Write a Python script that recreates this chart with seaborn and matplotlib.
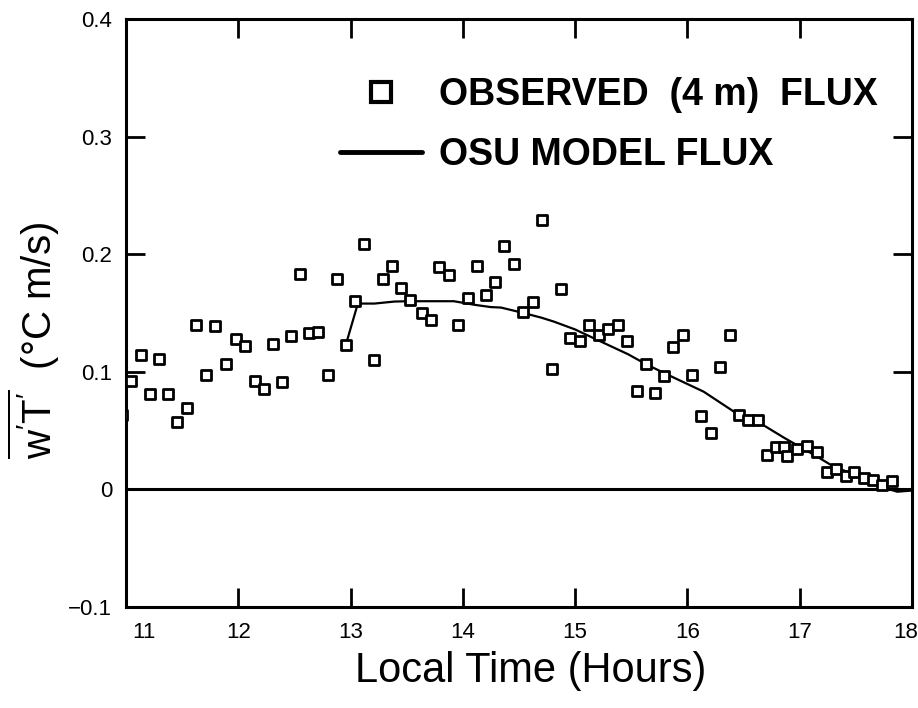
import matplotlib
matplotlib.use('Agg')
import matplotlib.pyplot as plt
import matplotlib.transforms as mtransforms
from matplotlib.lines import Line2D
import pandas as pd
import seaborn as sns

# -----------------------------
# DATA
# -----------------------------

obs_time = [
    10.965, 11.048, 11.13, 11.217, 11.294, 11.375, 11.457, 11.546, 11.626, 11.709,
    11.789, 11.893, 11.982, 12.062, 12.145, 12.229, 12.309, 12.389, 12.472, 12.554,
    12.634, 12.714, 12.798, 12.878, 12.958, 13.041, 13.124, 13.207, 13.29, 13.37,
    13.45, 13.533, 13.634, 13.717, 13.791, 13.88, 13.96, 14.044, 14.124, 14.204,
    14.287, 14.369, 14.453, 14.538, 14.627, 14.702, 14.791, 14.874, 14.957, 15.043,
    15.126, 15.209, 15.295, 15.384, 15.467, 15.55, 15.63, 15.71, 15.793, 15.876,
    15.965, 16.045, 16.125, 16.208, 16.291, 16.38, 16.46, 16.544, 16.629, 16.713,
    16.786, 16.86, 16.89, 16.979, 17.068, 17.151, 17.24, 17.32, 17.409, 17.489,
    17.572, 17.656, 17.736, 17.825,
]
obs_flux = [
    0.063, 0.092, 0.114, 0.081, 0.111, 0.081, 0.057, 0.069, 0.140, 0.097,
    0.139, 0.107, 0.128, 0.122, 0.092, 0.085, 0.124, 0.091, 0.130, 0.183,
    0.133, 0.134, 0.097, 0.179, 0.123, 0.160, 0.209, 0.110, 0.179, 0.190,
    0.171, 0.161, 0.150, 0.144, 0.189, 0.182, 0.140, 0.163, 0.190, 0.165,
    0.176, 0.207, 0.192, 0.151, 0.159, 0.229, 0.102, 0.170, 0.129, 0.126,
    0.140, 0.131, 0.136, 0.140, 0.126, 0.084, 0.107, 0.082, 0.096, 0.121,
    0.131, 0.097, 0.062, 0.048, 0.104, 0.131, 0.063, 0.059, 0.059, 0.029,
    0.036, 0.036, 0.028, 0.034, 0.037, 0.032, 0.015, 0.017, 0.011, 0.015,
    0.010, 0.008, 0.004, 0.007,
]

model_time = [
    12.958, 13.065, 13.213, 13.39, 13.51, 13.7, 13.92, 14.1, 14.25, 14.34,
    14.54, 14.7, 14.81, 15.0, 15.2, 15.47, 15.645, 15.88, 16.145, 16.415,
    16.65, 16.86, 17.156, 17.305, 17.54, 17.72, 17.87, 18.0,
]
model_flux = [
    0.123, 0.158, 0.158, 0.1597, 0.160, 0.160, 0.160, 0.157, 0.155, 0.1546,
    0.150, 0.146, 0.1427, 0.136, 0.127, 0.115, 0.1058, 0.095, 0.0831, 0.0661,
    0.0562, 0.044, 0.0278, 0.0193, 0.0108, 0.0023, -0.002, -0.001,
]

y_ticks = [-0.1, 0.0, 0.1, 0.2, 0.3, 0.4]
y_tick_labels = ['\u22120.1', '0', '0.1', '0.2', '0.3', '0.4']
x_ticks = [11, 12, 13, 14, 15, 16, 17, 18]

obs = pd.DataFrame({'time': obs_time, 'flux': obs_flux})
model = pd.DataFrame({'time': model_time, 'flux': model_flux})

# -----------------------------
# STYLE
# -----------------------------

sns.set_style('ticks')
plt.rcParams['font.family'] = ['Liberation Sans', 'DejaVu Sans']
plt.rcParams['mathtext.fontset'] = 'custom'
plt.rcParams['mathtext.rm'] = 'Liberation Sans'
plt.rcParams['mathtext.it'] = 'Liberation Sans'
plt.rcParams['text.color'] = 'black'
plt.rcParams['axes.labelcolor'] = 'black'

fig = plt.figure(figsize=(9.18, 7.08), dpi=100)
ax = fig.add_axes([0.1373, 0.1427, 0.856, 0.8305])

# -----------------------------
# PLOT
# -----------------------------

ax.axhline(0, color='black', lw=2.2, zorder=1)

sns.lineplot(data=model, x='time', y='flux', color='black', lw=1.6,
             sort=False, estimator=None, ax=ax, zorder=2)

sns.scatterplot(data=obs, x='time', y='flux', marker='s', s=55,
                facecolor='white', edgecolor='black', linewidth=2.0,
                ax=ax, zorder=3)

ax.set_xlim(11, 18)
ax.set_ylim(-0.1, 0.4)
ax.set_xticks(x_ticks)
ax.set_yticks(y_ticks)
ax.set_yticklabels(y_tick_labels)

ax.tick_params(direction='in', length=14, width=2.0, top=True, right=True,
               labelsize=16, color='black', labelcolor='black')
ax.tick_params(axis='x', pad=11)
ax.tick_params(axis='y', pad=10)

for side in ['left', 'right', 'top', 'bottom']:
    ax.spines[side].set_linewidth(2.2)
    ax.spines[side].set_color('black')

# nudge the end labels as in the original
ticks = ax.xaxis.get_major_ticks()
shift_11 = mtransforms.ScaledTranslation(18 / 100, 0, fig.dpi_scale_trans)
shift_18 = mtransforms.ScaledTranslation(-6 / 100, 0, fig.dpi_scale_trans)
ticks[0].label1.set_transform(ticks[0].label1.get_transform() + shift_11)
ticks[-1].label1.set_transform(ticks[-1].label1.get_transform() + shift_18)

ax.set_xlabel('Local Time (Hours)', fontsize=30, color='black')
ax.xaxis.set_label_coords(0.515, -0.075)
ax.set_ylabel("$\\overline{\\mathrm{w'T'}}$  (\u00b0C m/s)", fontsize=29,
              color='black')
ax.yaxis.set_label_coords(-0.081, 0.454)

# -----------------------------
# LEGEND
# -----------------------------

handles = [
    Line2D([], [], marker='s', ls='none', markerfacecolor='white',
           markeredgecolor='black', markersize=15, markeredgewidth=3),
    Line2D([], [], color='black', lw=3.5),
]
labels = ['OBSERVED  (4 m)  FLUX', 'OSU MODEL FLUX']
leg = ax.legend(handles, labels, loc='upper left', bbox_to_anchor=(0.272, 0.901),
                frameon=False, borderpad=0, borderaxespad=0, handlelength=2.2,
                handletextpad=0.45, labelspacing=0.64,
                prop={'weight': 'bold', 'size': 27})
for text in leg.get_texts():
    text.set_color('black')

fig.savefig('out.png', dpi=100)
plt.close(fig)
